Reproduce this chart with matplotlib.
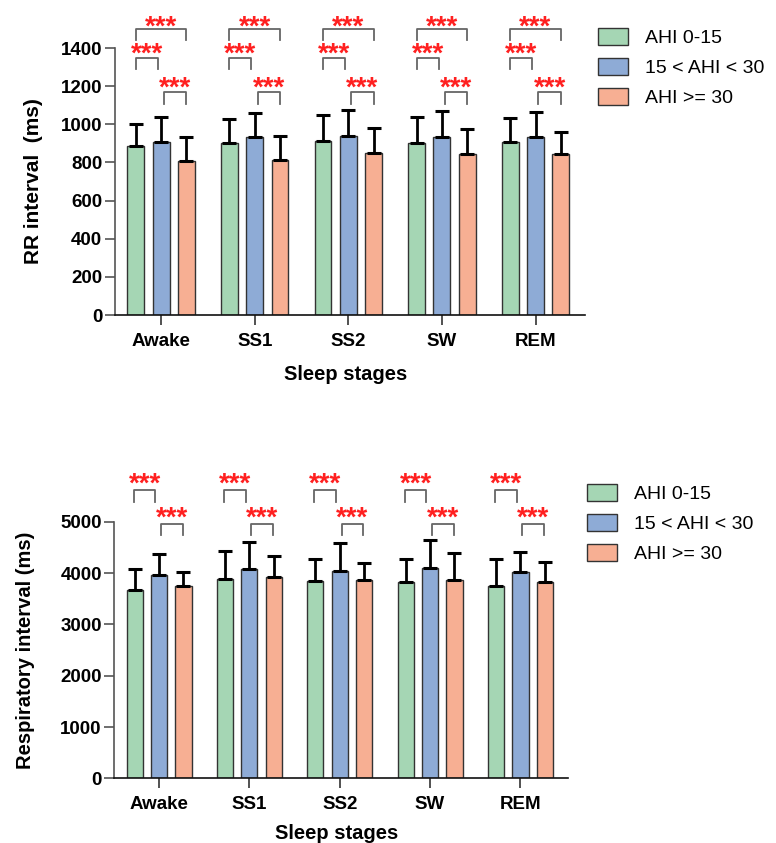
import numpy as np
import matplotlib.pyplot as plt
from matplotlib.patches import Patch

plt.rcParams['font.family'] = ['Liberation Sans', 'DejaVu Sans']

stages = ["Awake", "SS1", "SS2", "SW", "REM"]
groups = ["AHI 0-15", "15 < AHI < 30", "AHI >= 30"]
colors = ["#a5d6b4", "#8eabd6", "#f7af93"]

# RR interval (ms): mean and upper SD per stage
rr_mean = [[885, 901, 915, 904, 909],
           [909, 932, 939, 932, 936],
           [807, 814, 849, 843, 843]]
rr_top = [[1002, 1028, 1048, 1039, 1034],
          [1039, 1058, 1074, 1070, 1063],
          [936, 938, 981, 976, 958]]

# respiratory interval (ms)
resp_mean = [[3679, 3881, 3855, 3823, 3751],
             [3959, 4082, 4037, 4096, 4018],
             [3745, 3933, 3868, 3862, 3823]]
resp_top = [[4082, 4427, 4278, 4271, 4278],
            [4368, 4609, 4583, 4648, 4414],
            [4030, 4330, 4193, 4394, 4213]]

stars = "***"
width = 0.18
offsets = [-0.27, 0, 0.27]


def bars(ax, means, tops):
    x = np.arange(len(stages))
    for i in range(3):
        m = np.array(means[i])
        t = np.array(tops[i])
        ax.bar(x + offsets[i], m, width, color=colors[i], edgecolor="#333333",
               linewidth=1.0, zorder=2)
        ax.errorbar(x + offsets[i], m, yerr=[np.zeros_like(m), t - m], fmt="none",
                    ecolor="black", elinewidth=2.0, capsize=5, capthick=2.2, zorder=3)
    return x


def bracket(ax, x1, x2, y, leg, text_y):
    ax.plot([x1, x1, x2, x2], [y - leg, y, y, y - leg], color="#666666",
            lw=1.3, clip_on=False, zorder=4)
    ax.text((x1 + x2) / 2, text_y, stars, color="#ff2020", fontsize=20,
            fontweight="bold", ha="center", va="baseline", clip_on=False)


def style(ax, ymax, ystep):
    ax.set_xlim(-0.495, 4.53)
    ax.set_ylim(0, ymax)
    ax.set_yticks(np.arange(0, ymax + 1, ystep))
    ax.set_xticks(np.arange(len(stages)))
    ax.set_xticklabels(stages)
    ax.spines["top"].set_visible(False)
    ax.spines["right"].set_visible(False)
    ax.spines["left"].set_color("#555555")
    ax.spines["left"].set_linewidth(1.2)
    ax.spines["bottom"].set_color("#111111")
    ax.spines["bottom"].set_linewidth(1.2)
    ax.tick_params(axis="y", length=7, width=1.2, color="#555555", labelsize=13.5, pad=2)
    ax.tick_params(axis="x", length=7, width=1.2, color="#333333", labelsize=13.5, pad=6)
    for lab in ax.get_xticklabels() + ax.get_yticklabels():
        lab.set_fontweight("bold")
    ax.set_xlabel("Sleep stages", fontsize=14.5, fontweight="bold")


fig = plt.figure(figsize=(7.76, 8.43), dpi=100)
handles = [Patch(facecolor=c, edgecolor="#333333", linewidth=1.0) for c in colors]
leg_kw = dict(loc="upper left", frameon=False, fontsize=14, handlelength=1.55,
              handleheight=1.0, handletextpad=0.85, labelspacing=0.55)

# RR interval panel
ax1 = fig.add_axes([0.148, 0.6263, 0.606, 0.3167])
x = bars(ax1, rr_mean, rr_top)
style(ax1, 1400, 200)
ax1.set_ylabel("RR interval  (ms)", fontsize=15, fontweight="bold")
ax1.yaxis.set_label_coords(-0.153, 0.5)
ax1.xaxis.set_label_coords(0.49, -0.189)
for xi in x:
    bracket(ax1, xi - 0.27, xi + 0.27, 1500, 58, 1470)
    bracket(ax1, xi - 0.27, xi - 0.035, 1350, 60, 1330)
    bracket(ax1, xi + 0.03, xi + 0.27, 1168, 60, 1152)

fig.legend(handles, groups, bbox_to_anchor=(0.748, 0.988), **leg_kw)

# respiratory interval panel
ax2 = fig.add_axes([0.1473, 0.0768, 0.585, 0.304])
x = bars(ax2, resp_mean, resp_top)
style(ax2, 5000, 1000)
ax2.set_ylabel("Respiratory interval (ms)", fontsize=14.5, fontweight="bold")
ax2.yaxis.set_label_coords(-0.175, 0.5)
ax2.xaxis.set_label_coords(0.49, -0.177)
for xi in x:
    bracket(ax2, xi - 0.28, xi - 0.04, 5617, 222, 5590)
    bracket(ax2, xi + 0.02, xi + 0.26, 4966, 220, 4930)

fig.legend(handles, groups, bbox_to_anchor=(0.734, 0.447), **leg_kw)

fig.savefig("out.png", dpi=100)
